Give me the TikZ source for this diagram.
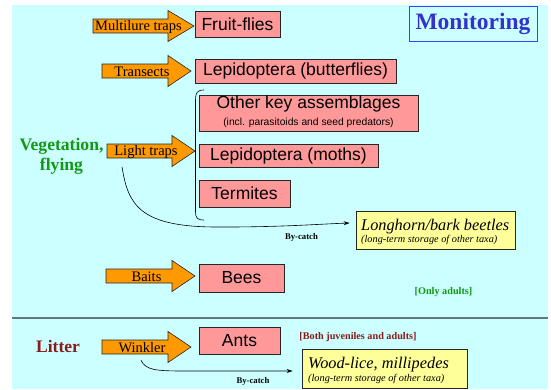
\documentclass[tikz,border=0pt]{standalone}
\usepackage{fontspec}
\setmainfont{Liberation Serif}
\newfontfamily\arialf{Liberation Sans}
\usetikzlibrary{arrows.meta,calc}
\definecolor{bgc}{HTML}{CCFFFF}
\definecolor{pinkc}{HTML}{FF9999}
\definecolor{orangec}{HTML}{FF9900}
\definecolor{yellowc}{HTML}{FFFF99}
\definecolor{greenc}{HTML}{119911}
\definecolor{redc}{HTML}{8B1A1A}
\definecolor{bluec}{HTML}{3333CC}
\definecolor{blueborder}{HTML}{3344FF}
\definecolor{sepc}{RGB}{96,120,120}
\tikzset{
  pinkbox/.style={draw=black!85, line width=0.8pt, fill=pinkc, inner sep=0pt,
    font=\arialf\fontsize{17.5}{19}\selectfont},
  smallsans/.style={inner sep=0pt, font=\arialf\fontsize{10.3}{12}\selectfont},
  yellowbox/.style={draw=black!85, line width=0.8pt, fill=yellowc, inner sep=0pt},
  bigital/.style={inner sep=0pt, font=\itshape\fontsize{16.3}{18}\selectfont},
  smallital/.style={inner sep=0pt, font=\itshape\fontsize{10.3}{12}\selectfont},
  arrowshape/.style={draw=black!85, line width=0.6pt, fill=orangec, line join=miter},
  arrlabel/.style={inner sep=0pt, font=\fontsize{14.5}{16}\selectfont},
  catchline/.style={draw=black, line width=0.6pt, -{Stealth[length=6pt,width=4pt]}},
  catchlabel/.style={inner sep=0pt, font=\bfseries\fontsize{8.7}{10}\selectfont},
  sidelabel/.style={inner sep=0pt, font=\bfseries\fontsize{17.6}{20}\selectfont, align=center},
  notelabel/.style={inner sep=0pt, font=\bfseries\fontsize{10.2}{12}\selectfont},
}
\newcommand{\blockarr}[4]{% left x, head x, tip x, centre y
  \draw[arrowshape] (#1,#4-7) -- (#2,#4-7) -- (#2,#4-15.5) -- (#3,#4) -- (#2,#4+15.5) -- (#2,#4+7) -- (#1,#4+7) -- cycle;}
\begin{document}
\begin{tikzpicture}[x=1pt,y=-1pt]
\useasboundingbox (0,0) rectangle (551,389);
\fill[bgc] (12,5) rectangle (548,389);
\draw[sepc, line width=1.2pt] (12,318) -- (548,318);

% title
\node[draw=blueborder, line width=1pt, fill=bgc, minimum width=128pt, minimum height=35pt, inner sep=0pt,
  text=bluec, font=\bfseries\fontsize{23.5}{26}\selectfont] (mon) at (473,23.5) {Monitoring};

% side labels
\node[sidelabel, text=greenc] (veg) at (61.5,156) {Vegetation,\\flying};
\node[sidelabel, text=redc] (lit) at (58,346) {Litter};

% block arrows
\blockarr{93}{168}{194}{26}
\node[arrlabel] (mlt) at (138.5,27) {Multilure traps};
\blockarr{102}{168}{191}{71}
\node[arrlabel] (tra) at (142,72) {Transects};
\blockarr{107}{172}{195}{151}
\node[arrlabel] (lt) at (146,152) {Light traps};
\blockarr{106}{172}{195}{276}
\node[arrlabel] (bai) at (146.5,276.5) {Baits};
\blockarr{102}{168}{191}{347}
\node[arrlabel] (win) at (142,348) {Winkler};

% pink boxes
\node[pinkbox, minimum width=85pt, minimum height=26pt] (ff) at (237.5,24) {Fruit-flies};
\node[pinkbox, minimum width=201pt, minimum height=24pt] (lb) at (295.5,71) {Lepidoptera (butterflies)};
\node[pinkbox, minimum width=219pt, minimum height=36pt] (oka) at (308.5,113) {};
\node[pinkbox, draw=none, fill=none] (okat) at (308.5,103.5) {Other key assemblages};
\node[smallsans] (okas) at (308.5,122.5) {(incl. parasitoids and seed predators)};
\node[pinkbox, minimum width=179pt, minimum height=23pt] (lm) at (288.5,155.5) {Lepidoptera (moths)};
\node[pinkbox, minimum width=91pt, minimum height=27pt] (te) at (244.5,193.5) {Termites};
\node[pinkbox, minimum width=85pt, minimum height=28pt] (bees) at (241.5,278) {Bees};
\node[pinkbox, minimum width=81pt, minimum height=27pt] (ants) at (239.5,340.5) {Ants};

% bracket
\draw[black, line width=0.6pt] (204,90) .. controls (197,90) and (195.5,93) .. (195.5,100) -- (195.5,211)
  .. controls (195.5,218) and (197,220) .. (204,220);

% yellow boxes
\node[yellowbox, minimum width=159pt, minimum height=38pt] (lh) at (435.5,230) {};
\node[bigital, anchor=base west] (lht) at (361,230.7) {Longhorn/bark beetles};
\node[smallital, anchor=base west] (lhs) at (361,242.5) {(long-term storage of other taxa)};
\node[yellowbox, minimum width=165pt, minimum height=39pt] (wl) at (384.5,368.5) {};
\node[bigital, anchor=base west] (wlt) at (308,368.3) {Wood-lice, millipedes};
\node[smallital, anchor=base west] (wls) at (308,381.7) {(long-term storage of other taxa)};

% notes
\node[notelabel, text=greenc] (only) at (443.5,292) {[Only adults]};
\node[notelabel, text=redc] (both) at (358,337) {[Both juveniles and adults]};

% by-catch connectors
\draw[catchline] ([xshift=-24pt,yshift=-8pt]lt.south) .. controls (128,205) and (140,226.5) .. (215,227)
  .. controls (280,227.3) and (320,224) .. ([xshift=-6pt,yshift=7pt]lh.west);
\node[catchlabel] (bc1) at (301.5,237) {By-catch};
\draw[catchline] ([xshift=-1pt,yshift=-7pt]win.south) .. controls (146,370) and (155,371) .. (185,371)
  -- ([xshift=-9pt,yshift=-2.5pt]wl.west);
\node[catchlabel] (bc2) at (253,381) {By-catch};
\end{tikzpicture}
\end{document}
